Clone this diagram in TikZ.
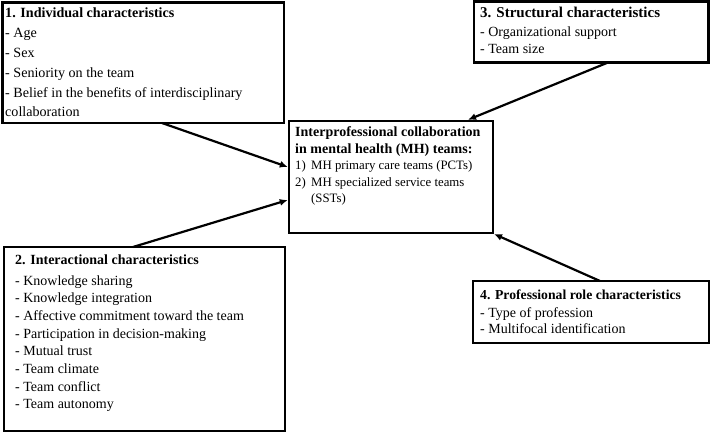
\documentclass[tikz,border=0pt]{standalone}
\usepackage{fontspec}
\setmainfont{Liberation Serif}
\usetikzlibrary{arrows.meta,calc}
\begin{document}
\begin{tikzpicture}[x=1pt,y=-1pt,
  frame/.style={draw=black, line width=2.4pt, fill=white, inner sep=0pt, outer sep=0pt, anchor=north west},
  link/.style={line width=2.2pt, -{Latex[length=8pt,width=7pt]}},
  txt/.style={anchor=base west, inner sep=0pt}]
\useasboundingbox (0,0) rectangle (710,433);
% boxes
\node[frame, line width=2.8pt, minimum width=281.5pt, minimum height=120.5pt] (ind) at (2.5,2.5) {};
\node[frame, minimum width=234.5pt, minimum height=61pt] (str) at (474,1.5) {};
\node[frame, minimum width=281pt, minimum height=184pt] (inter) at (4,247) {};
\node[frame, minimum width=236pt, minimum height=62pt] (prof) at (473,281) {};
\node[frame, minimum width=204pt, minimum height=112pt] (mh) at (289,121) {};
% texts
\node[txt] (indt) at (5,18) {\parbox[t]{278pt}{\fontsize{14.1}{20}\selectfont
  \textbf{1. Individual characteristics}\\
  - Age\\
  - Sex\\
  - Seniority on the team\\
  - Belief in the benefits of interdisciplinary\\[-1pt]
  collaboration}};
\node[txt] (strt) at (480,18) {\parbox[t]{225pt}{\fontsize{14}{16.5}\selectfont
  {\fontsize{15}{16.5}\selectfont\textbf{3. Structural characteristics}}\\[2.5pt]
  - Organizational support\\
  - Team size}};
\node[txt] (intert) at (15,264) {\parbox[t]{265pt}{\fontsize{14}{17.7}\selectfont
  \textbf{2. Interactional characteristics}\\[3.3pt]
  - Knowledge sharing\\
  - Knowledge integration\\
  - Affective commitment toward the team\\
  - Participation in decision-making\\
  - Mutual trust\\
  - Team climate\\
  - Team conflict\\
  - Team autonomy}};
\node[txt] (proft) at (480,299) {\parbox[t]{225pt}{\fontsize{14}{16.5}\selectfont
  {\fontsize{13.7}{16.5}\selectfont\textbf{4. Professional role characteristics}}\\[1.5pt]
  - Type of profession\\
  - Multifocal identification}};
\node[txt] (mht) at (295,137) {\parbox[t]{195pt}{\fontsize{12.8}{16.5}\selectfont
  {\fontsize{14}{16.5}\selectfont\textbf{Interprofessional collaboration}}\\
  {\fontsize{14}{16.5}\selectfont\textbf{in mental health (MH) teams:}}\\
  \makebox[16pt][l]{1)}MH primary care teams (PCTs)\\
  \makebox[16pt][l]{2)}MH specialized service teams\\
  \hspace*{16pt}(SSTs)}};
% connectors
\draw[link] ($(ind.south west)+(159.5,0)$) -- ($(mh.north west)+(-1.2,46)$);
\draw[link] ($(inter.north west)+(129,0)$) -- ($(mh.north west)+(-1.2,79)$);
\draw[link] ($(str.south west)+(134,0)$) -- ($(mh.north west)+(179,-1.2)$);
\draw[link] ($(prof.north west)+(127,0)$) -- ($(mh.south east)+(1,1)$);
\end{tikzpicture}
\end{document}
